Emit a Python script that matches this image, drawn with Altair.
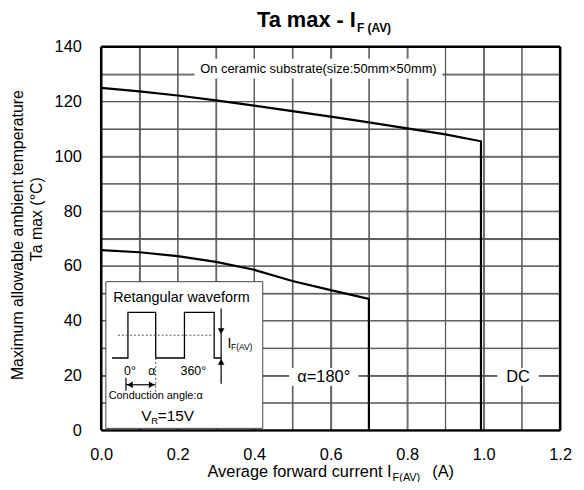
import altair as alt
import pandas as pd

# ---------------- data ----------------
dc_x = [0.0, 0.1, 0.2, 0.3, 0.4, 0.5, 0.6, 0.7, 0.8, 0.9, 0.993, 0.993]
dc_y = [125.0, 123.7, 122.2, 120.4, 118.5, 116.5, 114.5, 112.4, 110.2, 108.0, 105.5, 0.0]
a180_x = [0.0, 0.1, 0.2, 0.3, 0.4, 0.5, 0.6, 0.7, 0.7]
a180_y = [65.8, 65.0, 63.6, 61.5, 58.6, 54.5, 51.2, 48.0, 0.0]

# grid positions (every 0.1 A / 10 degC); labels shown on every second one
x_grid = [0.0, 0.1, 0.2, 0.3, 0.4, 0.5, 0.6, 0.7, 0.8, 0.9, 1.0, 1.1, 1.2]
y_grid = [0, 10, 20, 30, 40, 50, 60, 70, 80, 90, 100, 110, 120, 130, 140]

lbl_text = ["On ceramic substrate(size:50mm\u00d750mm)", "\u03b1=180\u00b0", "DC"]
lbl_x = [0.568, 0.582, 1.090]
lbl_y = [132.0, 19.5, 19.5]
lbl_size = [13, 16.5, 16.5]

FONT = "Liberation Sans"
W, H = 463, 387
X_MAX, Y_MAX = 1.2, 140

xs = alt.Scale(domain=[0, X_MAX], nice=False, zero=False)
ys = alt.Scale(domain=[0, Y_MAX], nice=False, zero=False)

X_AX = alt.Axis(values=x_grid, grid=True, gridColor="#555", gridWidth=1, gridOpacity=1,
                labelExpr="round(datum.value * 10) % 2 == 0 ? format(datum.value, '.1f') : ''",
                ticks=False, domain=False, title=None,
                labelFont=FONT, labelFontSize=16.5, labelColor="black", labelPadding=16,
                labelFlush=False, labelOverlap=False)
Y_AX = alt.Axis(values=y_grid, grid=True, gridColor="#555", gridWidth=1, gridOpacity=1,
                labelExpr="datum.value % 20 == 0 ? datum.label : ''",
                ticks=False, domain=False, title=None,
                labelFont=FONT, labelFontSize=16.5, labelColor="black", labelPadding=20,
                labelFlush=False, labelOverlap=False)


def X(field):
    return alt.X(field, scale=xs, axis=X_AX)


def Y(field):
    return alt.Y(field, scale=ys, axis=Y_AX)


def dx(px):
    """pixel offset from plot left -> data x"""
    return px / W * X_MAX


def dy(py):
    """pixel offset from plot top -> data y"""
    return (H - py) / H * Y_MAX


# ---------------- grid as rule marks (also drawn by the axes) ----------------
xgrid = alt.Chart(pd.DataFrame({"gx": x_grid[1:-1]})).mark_rule(color="#555", strokeWidth=1).encode(
    x=X("gx:Q"))
ygrid = alt.Chart(pd.DataFrame({"gy": y_grid[1:-1]})).mark_rule(color="#555", strokeWidth=1).encode(
    y=Y("gy:Q"))

# ---------------- curves ----------------
curves_df = pd.concat([
    pd.DataFrame({"x": dc_x, "y": dc_y, "s": "DC", "i": range(len(dc_x))}),
    pd.DataFrame({"x": a180_x, "y": a180_y, "s": "a180", "i": range(len(a180_x))}),
])
curves = alt.Chart(curves_df).mark_line(color="black", strokeWidth=2.2).encode(
    x=X("x:Q"), y=Y("y:Q"), detail="s:N", order="i:Q")

# ---------------- frame ----------------
frame_rows = [(0.0, 0.0, 0.0, float(Y_MAX)), (float(X_MAX), 0.0, float(X_MAX), float(Y_MAX)),
              (0.0, 0.0, float(X_MAX), 0.0), (0.0, float(Y_MAX), float(X_MAX), float(Y_MAX))]
frame = alt.Chart(pd.DataFrame(frame_rows, columns=["fa", "fb", "fc", "fd"])).mark_rule(
    color="black", strokeWidth=2.5).encode(x=X("fa:Q"), y=Y("fb:Q"), x2="fc:Q", y2="fd:Q")

# ---------------- in-plot labels with white background ----------------
bg_w = [250, 70, 42]
bg_h = [20, 18, 18]
lbl_df = pd.DataFrame({
    "x": lbl_x, "y": lbl_y, "t": lbl_text, "fs": lbl_size,
    "x1": [x - w / 2 / W * X_MAX for x, w in zip(lbl_x, bg_w)],
    "x2": [x + w / 2 / W * X_MAX for x, w in zip(lbl_x, bg_w)],
    "y1": [y - h / 2 / H * Y_MAX for y, h in zip(lbl_y, bg_h)],
    "y2": [y + h / 2 / H * Y_MAX for y, h in zip(lbl_y, bg_h)],
})
lbl_bg = alt.Chart(lbl_df).mark_rect(color="white").encode(
    x=X("x1:Q"), x2="x2:Q", y=Y("y1:Q"), y2="y2:Q")
lbl_txt = alt.Chart(lbl_df).mark_text(font=FONT, color="black", baseline="middle", align="center").encode(
    x=X("x:Q"), y=Y("y:Q"), text="t:N", size=alt.Size("fs:Q", scale=None, legend=None))


# ---------------- helpers for decoration placed by plot-pixel offsets ----------------
def ptext(rows, **kw):
    df = pd.DataFrame([(dx(a), dy(b), t, fs) for a, b, t, fs in rows], columns=["x", "y", "t", "fs"])
    params = dict(font=FONT, color="black")
    params.update(kw)
    return alt.Chart(df).mark_text(**params).encode(
        x=X("x:Q"), y=Y("y:Q"), text="t:N", size=alt.Size("fs:Q", scale=None, legend=None))


def prules(rows, **kw):
    df = pd.DataFrame([(dx(a), dy(b), dx(c), dy(d)) for a, b, c, d in rows], columns=["a", "b", "c", "d"])
    return alt.Chart(df).mark_rule(**kw).encode(x=X("a:Q"), y=Y("b:Q"), x2="c:Q", y2="d:Q")


# ---------------- inset (waveform legend box) ----------------
box = [(4.7, 237, 163, 385)]
inset_box = alt.Chart(pd.DataFrame([(dx(a), dy(b), dx(c), dy(d)) for a, b, c, d in box],
                                   columns=["a", "b", "c", "d"])).mark_rect(
    fill="white", stroke="#444", strokeWidth=1).encode(x=X("a:Q"), y=Y("b:Q"), x2="c:Q", y2="d:Q")

wave_px = [11, 27, 27, 55, 55, 84, 84, 114, 114, 121]
wave_py = [314, 314, 268, 268, 314, 314, 268, 268, 314, 314]
wave = alt.Chart(pd.DataFrame({"x": [dx(v) for v in wave_px], "y": [dy(v) for v in wave_py],
                               "i": range(len(wave_px))})).mark_line(
    color="black", strokeWidth=1.3).encode(x=X("x:Q"), y=Y("y:Q"), order="i:Q")

dotted = prules([(17, 291, 113, 291), (55, 314, 55, 348)], color="#555", strokeWidth=1, strokeDash=[2, 2])
solid = prules([(121, 264, 121, 340), (25, 341, 55, 341), (25, 334, 25, 347)], color="black", strokeWidth=1.2)

heads_px = [121, 121, 29, 51]
heads_py = [287, 318, 341, 341]
heads_shape = ["triangle-down", "triangle-up", "triangle-left", "triangle-right"]
heads_df = pd.DataFrame({"x": [dx(v) for v in heads_px], "y": [dy(v) for v in heads_py], "shp": heads_shape})
heads = alt.Chart(heads_df).mark_point(filled=True, color="black", opacity=1, size=45).encode(
    x=X("x:Q"), y=Y("y:Q"), shape=alt.Shape("shp:N", scale=None, legend=None))

inset_txt_c = ptext([
    (81, 253, "Retangular waveform", 14.5),
    (29, 327, "0\u00b0", 12.5),
    (51, 327, "\u03b1", 12.5),
    (93, 327, "360\u00b0", 12.5),
    (55, 352, "Conduction angle:\u03b1", 11),
], align="center", baseline="middle")
inset_txt_l = ptext([(127.5, 300, "I", 14)], align="left", baseline="middle")
inset_sub = ptext([(131, 306, "F(AV)", 8.5), (50.5, 381, "R", 9.5)], align="left", baseline="alphabetic")
inset_vr = ptext([(40.5, 377.5, "V", 15.5), (57, 377.5, "=15V", 15.5)], align="left", baseline="alphabetic")

# ---------------- titles (placed by pixel offsets, with subscripts) ----------------
title_main = ptext([(257, -20, "Ta max - I", 22)], align="right", baseline="alphabetic", fontWeight="bold")
title_sub = ptext([(258, -14.5, "F (AV)", 12)], align="left", baseline="alphabetic", fontWeight="bold")

xt_main = ptext([(293, 434, "Average forward current I", 16.5)], align="right", baseline="alphabetic")
xt_sub = ptext([(294, 438, "F(AV)", 11)], align="left", baseline="alphabetic")
xt_tail = ptext([(334, 434, "(A)", 16.5)], align="left", baseline="alphabetic")

yt1 = ptext([(-65, 174, "Ta max (\u00b0C)", 16)], align="center", baseline="middle", angle=270)
yt2 = ptext([(-84, 190, "Maximum allowable ambient temperature", 16)], align="center", baseline="middle",
            angle=270)

chart = alt.layer(
    xgrid, ygrid, curves, frame, lbl_bg, lbl_txt,
    inset_box, wave, dotted, solid, heads, inset_txt_c, inset_txt_l, inset_sub, inset_vr,
    title_main, title_sub, xt_main, xt_sub, xt_tail, yt1, yt2,
).properties(
    width=W, height=H,
    padding={"left": 94, "top": 37, "right": 16, "bottom": 50},
    autosize=alt.AutoSizeParams(type="none"),
)

chart.save("out.html", embed_options={"renderer": "svg", "actions": False})
